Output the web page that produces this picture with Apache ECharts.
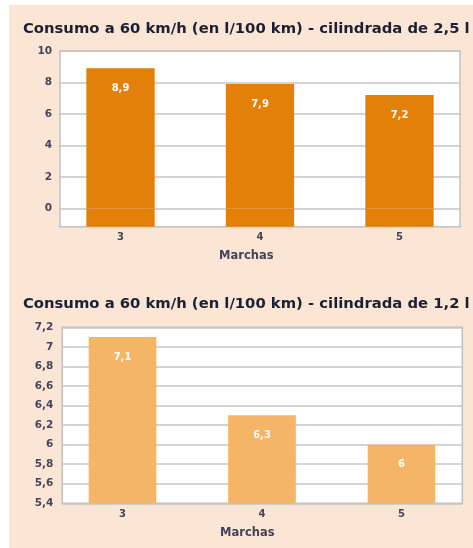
<!DOCTYPE html>
<html>
<head>
<meta charset="utf-8">
<script src="https://cdn.jsdelivr.net/npm/echarts@6/dist/echarts.min.js"></script>
<style>
  html, body { margin: 0; padding: 0; background: #fff; }
  #wrap { position: relative; width: 473px; height: 548px; overflow: hidden; }
  #panel { position: absolute; left: 9px; top: 5px; right: 0; bottom: 0; background: #FBE5D4; }
  #c { position: absolute; left: 0; top: 0; width: 473px; height: 548px; }
</style>
</head>
<body>
<div id="wrap"><div id="panel"></div><div id="c"></div></div>
<script>
// Fuel consumption at 60 km/h by gear, for two engine sizes
const marchas = ['3', '4', '5'];
const consumo25 = [8.9, 7.9, 7.2];
const consumo12 = [7.1, 6.3, 6];
const ticks25 = [0, 2, 4, 6, 8, 10];
const title25 = 'Consumo a 60 km/h (en l/100 km) - cilindrada de 2,5 l';
const title12 = 'Consumo a 60 km/h (en l/100 km) - cilindrada de 1,2 l';
const axisName = 'Marchas';

const y25Min = -1.15, y25Max = 10;
const y12Min = 5.4, y12Max = 7.2, y12Step = 0.2;

const FONT = 'DejaVu Sans';
const TEXT = '#45435C';
const TITLE = '#1B2036';
const GRIDLINE = '#C6C6C6';
const comma = v => String(Math.round(v * 10) / 10).replace('.', ',');

const chart = echarts.init(document.getElementById('c'), null, { renderer: 'canvas' });

const frameGrid = (left, top, height) => ({
  left, top, width: 400, height,
  show: true, backgroundColor: '#fff', borderColor: '#C2C2C2', borderWidth: 1.5
});
const dataGrid = (left, top, height) => ({ left, top, width: 418.5, height });

const hiddenCat = gridIndex => ({ type: 'category', gridIndex, data: marchas, show: false });
const shownCat = gridIndex => ({
  type: 'category', gridIndex, data: marchas,
  axisLine: { show: false }, axisTick: { show: false },
  axisLabel: { margin: 6, color: TEXT, fontFamily: FONT, fontWeight: 'bold', fontSize: 10 }
});
const yLabel = {
  color: TEXT, fontFamily: FONT, fontWeight: 'bold', fontSize: 10.5, formatter: comma
};
const barLabel = {
  show: true, position: 'insideTop', distance: 15, color: '#fff',
  fontFamily: FONT, fontWeight: 'bold', fontSize: 10,
  formatter: p => comma(p.value)
};
const titleStyle = { fontFamily: FONT, fontWeight: 'bold', fontSize: 14.8, color: TITLE };
const nameStyle = { fontFamily: FONT, fontWeight: 'bold', fontSize: 11.5, color: TEXT };

chart.setOption({
  backgroundColor: 'transparent',
  animation: false,
  title: [
    { text: title25, left: 18, top: 17, textStyle: titleStyle },
    { text: title12, left: 18, top: 292, textStyle: titleStyle },
    { text: axisName, left: 214, top: 245, textStyle: nameStyle },
    { text: axisName, left: 215, top: 522, textStyle: nameStyle }
  ],
  grid: [
    frameGrid(60, 51, 175.7),
    dataGrid(50.75, 51, 175.7),
    frameGrid(62.3, 327.3, 176),
    dataGrid(52.75, 327.3, 176)
  ],
  xAxis: [hiddenCat(0), shownCat(1), hiddenCat(2), shownCat(3)],
  yAxis: [
    {
      type: 'value', gridIndex: 0, min: y25Min, max: y25Max,
      axisLine: { show: false },
      axisTick: { show: false, customValues: ticks25 },
      axisLabel: Object.assign({ margin: 8, customValues: ticks25 }, yLabel),
      splitLine: { show: true, lineStyle: { color: GRIDLINE, width: 1.5 } }
    },
    { type: 'value', gridIndex: 1, min: y25Min, max: y25Max, show: false, splitLine: { show: false } },
    {
      type: 'value', gridIndex: 2, min: y12Min, max: y12Max, interval: y12Step,
      axisLine: { show: false }, axisTick: { show: false },
      axisLabel: Object.assign({ margin: 9 }, yLabel),
      splitLine: { show: true, lineStyle: { color: GRIDLINE, width: 1.5 } }
    },
    { type: 'value', gridIndex: 3, min: y12Min, max: y12Max, show: false, splitLine: { show: false } }
  ],
  series: [
    // the plot floor sits below zero, so each bar is continued down to the axis minimum
    {
      type: 'bar', xAxisIndex: 1, yAxisIndex: 1, stack: 'g25', barWidth: '49%',
      data: marchas.map(() => y25Min),
      itemStyle: { color: '#E3800A' }, silent: true
    },
    {
      type: 'bar', xAxisIndex: 1, yAxisIndex: 1, stack: 'g25', barWidth: '49%',
      data: consumo25,
      itemStyle: { color: '#E3800A' }, label: barLabel
    },
    {
      type: 'bar', xAxisIndex: 3, yAxisIndex: 3, barWidth: '48.5%', clip: true,
      data: consumo12,
      itemStyle: { color: '#F5B567' }, label: barLabel
    }
  ]
});
</script>
</body>
</html>
